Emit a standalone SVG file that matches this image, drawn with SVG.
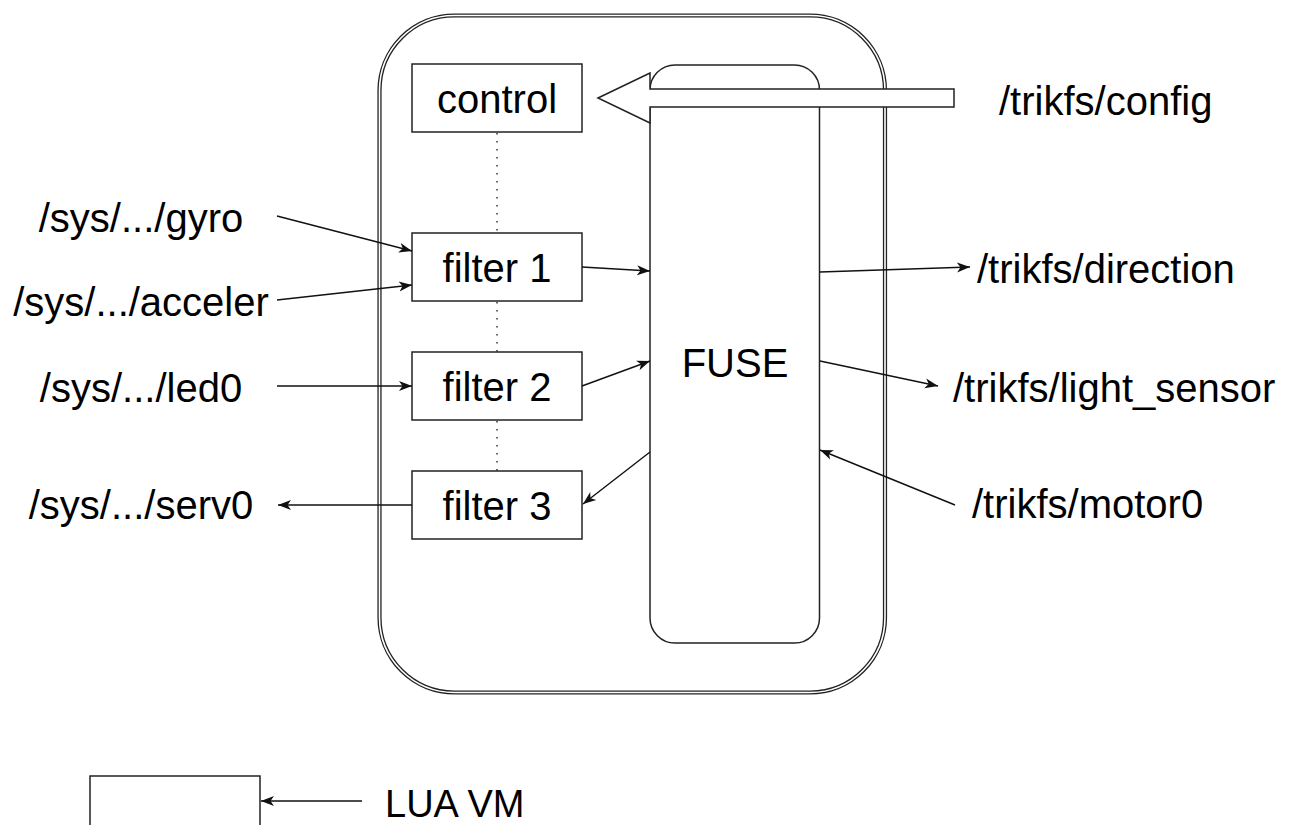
<svg xmlns="http://www.w3.org/2000/svg" width="1295" height="825" viewBox="0 0 1295 825">
  <style>
    text { font-family: "Liberation Sans", Arial, Helvetica, sans-serif; font-size: 40px; fill: #000; }
    .box { fill: #fff; stroke: #222; stroke-width: 1.5; }
    .edge { fill: none; stroke: #111; stroke-width: 1.4; }
    .dots { fill: none; stroke: #333; stroke-width: 1.5; stroke-dasharray: 1.5 6.5; }
    .mid { text-anchor: middle; }
  </style>
  <defs>
    <marker id="arrow" markerUnits="userSpaceOnUse" viewBox="0 0 14 12" markerWidth="14" markerHeight="12" refX="13" refY="6" orient="auto">
      <path d="M13,6 L0,1 L3.5,6 L0,11 Z" fill="#111"/>
    </marker>
  </defs>

  <rect width="1295" height="825" fill="#fff"/>

  <!-- container with double border -->
  <g id="container">
    <rect x="379.5" y="15.5" width="505.5" height="677" rx="75" ry="75" fill="#fff" stroke="#222" stroke-width="4.2"/>
    <rect x="379.5" y="15.5" width="505.5" height="677" rx="75" ry="75" fill="none" stroke="#fff" stroke-width="1.6"/>
  </g>

  <!-- FUSE -->
  <g id="fuse">
    <rect class="box" x="650" y="65" width="169.5" height="578" rx="25" ry="25"/>
    <text class="mid" x="735" y="377">FUSE</text>
  </g>

  <!-- dotted links between stacked blocks -->
  <g id="chain">
    <line class="dots" x1="497" y1="133" x2="497" y2="233"/>
    <line class="dots" x1="497" y1="302" x2="497" y2="352"/>
    <line class="dots" x1="497" y1="421" x2="497" y2="471"/>
  </g>

  <g id="control">
    <rect class="box" x="412" y="64" width="170" height="68"/>
    <text class="mid" x="497" y="113">control</text>
  </g>
  <g id="filter1">
    <rect class="box" x="412" y="233" width="170" height="68"/>
    <text class="mid" x="497" y="282">filter 1</text>
  </g>
  <g id="filter2">
    <rect class="box" x="412" y="352" width="170" height="68"/>
    <text class="mid" x="497" y="401">filter 2</text>
  </g>
  <g id="filter3">
    <rect class="box" x="412" y="471" width="170" height="68"/>
    <text class="mid" x="497" y="520">filter 3</text>
  </g>

  <!-- config block arrow, drawn over the containers -->
  <g id="config-arrow">
    <path d="M598,98 L650,73 L650,89 L954,89 L954,107 L650,107 L650,123 Z" fill="#fff" stroke="#222" stroke-width="1.5" stroke-linejoin="miter"/>
  </g>

  <!-- external endpoints -->
  <g id="gyro"><text class="mid" x="141" y="232">/sys/.../gyro</text></g>
  <g id="acceler"><text class="mid" x="141" y="316">/sys/.../acceler</text></g>
  <g id="led0"><text class="mid" x="141" y="402">/sys/.../led0</text></g>
  <g id="serv0"><text class="mid" x="141" y="519">/sys/.../serv0</text></g>
  <g id="config"><text x="999" y="115">/trikfs/config</text></g>
  <g id="direction"><text x="977" y="283">/trikfs/direction</text></g>
  <g id="light_sensor"><text x="953" y="402">/trikfs/light_sensor</text></g>
  <g id="motor0"><text x="972" y="518">/trikfs/motor0</text></g>

  <g id="luavm">
    <rect class="box" x="90" y="776" width="170" height="100"/>
  </g>
  <g id="luavm-label"><text x="385" y="817" style="font-size:38px">LUA VM</text></g>

  <!-- connectors -->
  <g id="connectors">
    <line class="edge" x1="277" y1="216" x2="412" y2="251" marker-end="url(#arrow)"/>
    <line class="edge" x1="277" y1="300" x2="412" y2="285" marker-end="url(#arrow)"/>
    <line class="edge" x1="277" y1="386" x2="412" y2="386" marker-end="url(#arrow)"/>
    <line class="edge" x1="412" y1="505" x2="278" y2="505" marker-end="url(#arrow)"/>
    <line class="edge" x1="582" y1="267" x2="650" y2="271" marker-end="url(#arrow)"/>
    <line class="edge" x1="582" y1="386" x2="650" y2="361" marker-end="url(#arrow)"/>
    <line class="edge" x1="650" y1="452" x2="583" y2="504" marker-end="url(#arrow)"/>
    <line class="edge" x1="820" y1="272" x2="970" y2="267" marker-end="url(#arrow)"/>
    <line class="edge" x1="820" y1="361" x2="938" y2="386" marker-end="url(#arrow)"/>
    <line class="edge" x1="955" y1="505" x2="820" y2="450" marker-end="url(#arrow)"/>
    <line class="edge" x1="362" y1="801" x2="261" y2="801" marker-end="url(#arrow)"/>
  </g>
</svg>
